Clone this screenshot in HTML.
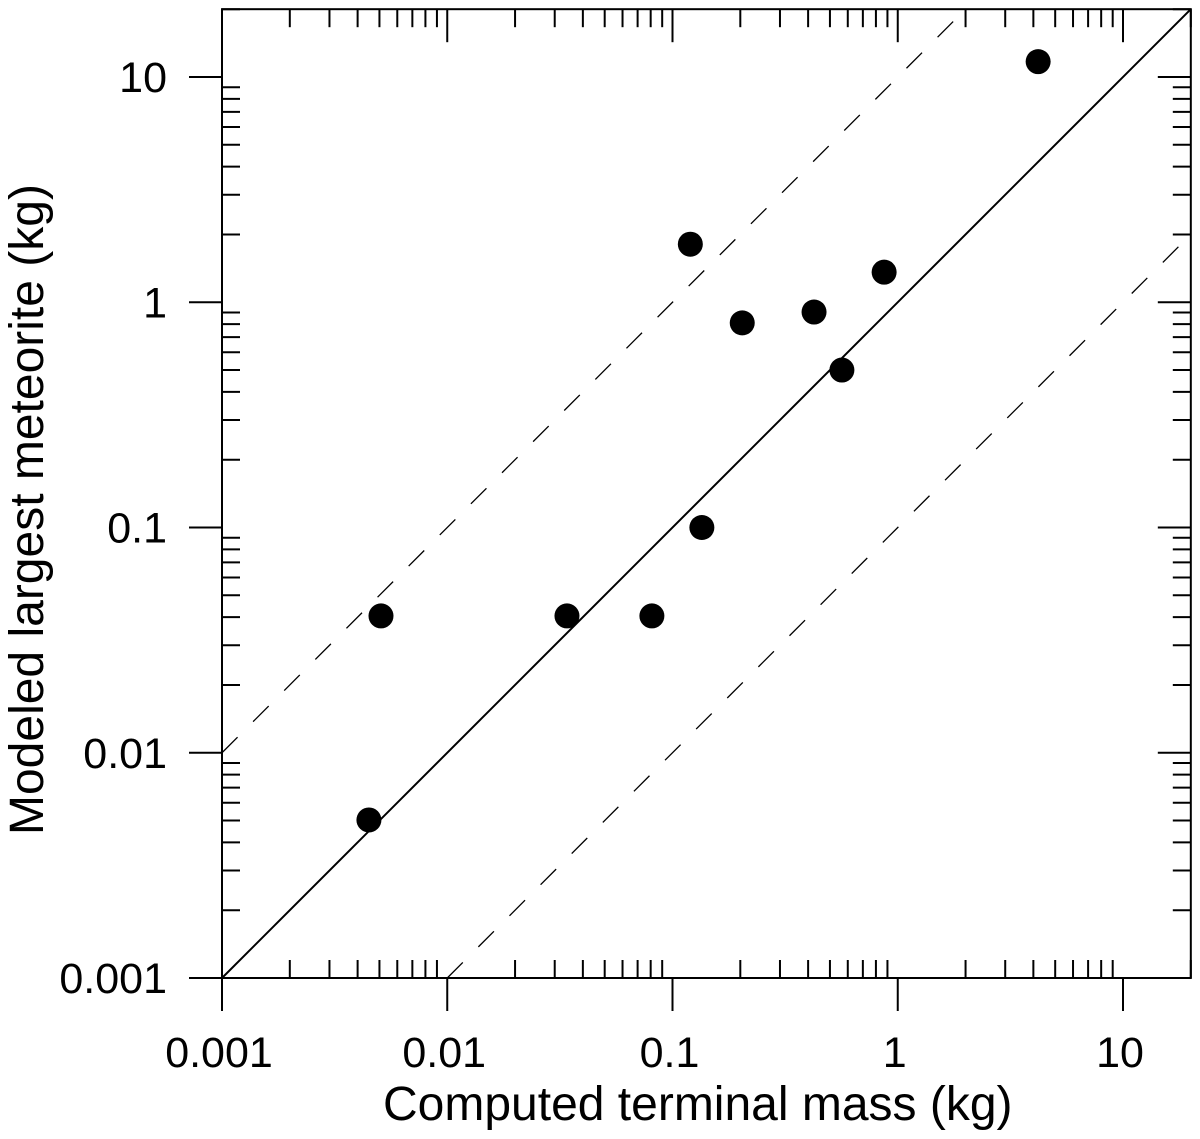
<!DOCTYPE html>
<html><head><meta charset="utf-8"><style>
html,body{margin:0;padding:0;background:#fff;}
svg{display:block;font-family:"Liberation Sans",Arial,sans-serif;}
</style></head><body>
<svg id="chart" width="1200" height="1139" viewBox="0 0 1200 1139"></svg>
<script>
const xVals=[0.00449,0.00508,0.034,0.081,0.135,0.12,0.204,0.425,0.565,0.87,4.2];
const yVals=[0.00503,0.0405,0.0405,0.0405,0.1,1.81,0.81,0.905,0.5,1.36,11.7];
const tickVals=[0.001,0.01,0.1,1,10];
const tickLabels=["0.001","0.01","0.1","1","10"];
const axisMin=0.001, axisMax=20;
const ratios=[1,10,0.1];

const L=222,B=978,DEC=225.25;
const R=L+Math.log10(axisMax/axisMin)*DEC, T=B-Math.log10(axisMax/axisMin)*DEC;
const sx=v=>L+Math.log10(v/axisMin)*DEC;
const sy=v=>B-Math.log10(v/axisMin)*DEC;
const svg=document.getElementById('chart');
const NS='http://www.w3.org/2000/svg';
function mk(tag,attrs,name){const e=document.createElementNS(NS,tag);for(const k in attrs)e.setAttribute(k,attrs[k]);


svg.appendChild(e);return e;}
function line(x1,y1,x2,y2,name,w,dash){const a={x1,y1,x2,y2,stroke:'#000','stroke-width':w||2};if(dash)a['stroke-dasharray']=dash;return mk('line',a,name);}

mk('rect',{x:L,y:T,width:R-L,height:B-T,fill:'none',stroke:'#000','stroke-width':2},'plot-frame');
for(let d=0;d<5;d++){
  const base=tickVals[d];
  for(let m=1;m<10;m++){
    const v=base*m; if(v>axisMax)break;
    const X=sx(v),Y=sy(v);
    if(m===1){
      line(X,B,X,B+33,'x-major-tick');
      line(X,T,X,T+33,'x-top-major-tick');
      line(L-33,Y,L,Y,'y-major-tick');
      line(R-33,Y,R,Y,'y-right-major-tick');
    }else{
      line(X,B,X,B-18,'x-minor-tick');
      line(X,T,X,T+18,'x-top-minor-tick');
      line(L,Y,L+18,Y,'y-minor-tick');
      line(R,Y,R-18,Y,'y-right-minor-tick');
    }
  }
}
tickVals.forEach((v,i)=>{
  const tx=mk('text',{x:sx(v)-3,y:1067,'font-size':43,'text-anchor':'middle'},'x-tick-label');tx.textContent=tickLabels[i];
  const ty=mk('text',{x:167,y:sy(v)+15,'font-size':43,'text-anchor':'end'},'y-tick-label');ty.textContent=tickLabels[i];
});
ratios.forEach((r,i)=>{
  let x1=axisMin,y1=axisMin*r; if(y1<axisMin){x1=axisMin/r;y1=axisMin;}
  let x2=axisMax,y2=axisMax*r; if(y2>axisMax){x2=axisMax/r;y2=axisMax;}
  line(sx(x1),sy(y1),sx(x2),sy(y2),i===0?'one-to-one-line':'factor-10-line',i===0?2:1.3,i===0?null:'22,22');
});
xVals.forEach((v,i)=>{mk('circle',{cx:sx(v),cy:sy(yVals[i]),r:12.5,fill:'#000'},'data-point');});
const xt=mk('text',{x:383,y:1120,'font-size':48,'text-anchor':'start'},'x-axis-title');xt.textContent='Computed terminal mass (kg)';
const yt=mk('text',{x:0,y:0,'font-size':48,'text-anchor':'start',transform:'translate(43,835) rotate(-90)'},'y-axis-title');yt.textContent='Modeled largest meteorite (kg)';
</script>
</body></html>
